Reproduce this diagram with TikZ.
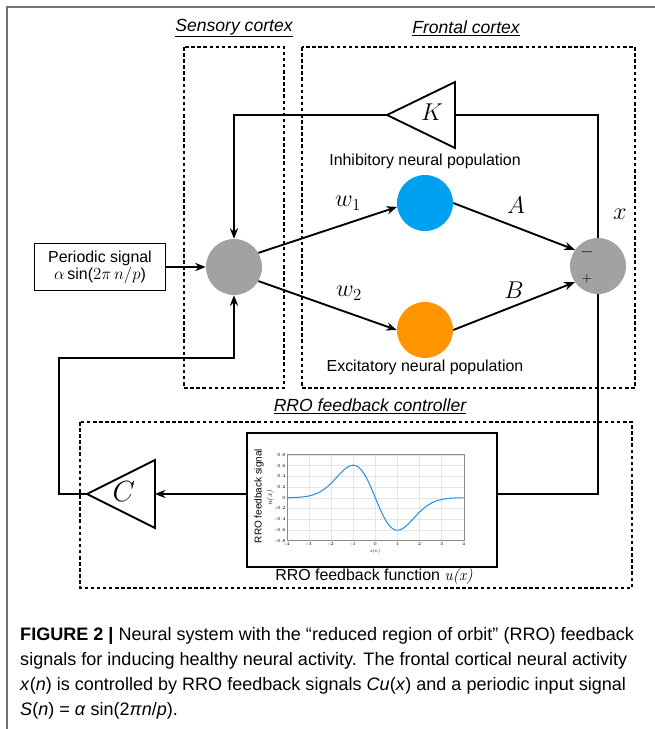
\documentclass[tikz,border=0pt]{standalone}
\usepackage{fontspec}
\setsansfont{Liberation Sans}
\usetikzlibrary{arrows.meta}
\definecolor{inhblue}{RGB}{0,160,240}
\definecolor{excorange}{RGB}{255,150,0}
\definecolor{popgray}{RGB}{162,162,162}
\definecolor{curveblue}{RGB}{45,145,225}
\begin{document}
\begin{tikzpicture}[x=0.03cm,y=-0.03cm,
  pop node/.style={circle,fill=#1,minimum size=1.68cm,inner sep=0pt},
  region/.style={draw,line width=1.4pt,dash pattern=on 3pt off 2.2pt},
  wire/.style={line width=1.6pt},
  arr/.style={-{Stealth[length=9pt,width=7pt]}},
  txt/.style={font=\sffamily\fontsize{13.6}{15.5}\selectfont},
  head/.style={font=\sffamily\itshape\fontsize{15}{17}\selectfont},
  gain/.style={font=\fontsize{22}{24}\selectfont},
  tick/.style={font=\fontsize{4}{4}\selectfont,inner sep=1pt},
  cap line/.style={anchor=west,inner sep=0pt,font=\sffamily\fontsize{15.4}{18}\selectfont}]

  \useasboundingbox (0,0) rectangle (655,729);
  \draw[line width=1.6pt,black!55] (7,729) -- (7,7) -- (655,7);

  % regions
  \draw[region] (184,47) rectangle (284,388);
  \draw[region] (302,47) rectangle (635,388);
  \draw[region] (80,422) rectangle (632,588);
  \node[head] (senhead) at (234,28) {\underline{Sensory cortex}};
  \node[head] (fronthead) at (466,28) {\underline{Frontal cortex}};
  \node[head] (rrohead) at (370,406) {\underline{RRO feedback controller}};

  % populations
  \node[pop node=popgray] (sen) at (234,267) {};
  \node[pop node=inhblue] (inh) at (425,203) {};
  \node[pop node=excorange] (exc) at (425,330) {};
  \node[pop node=popgray] (sum) at (598,266) {};
  \node[txt] (inhtext) at (425,161) {Inhibitory neural population};
  \node[txt] (exctext) at (425,367) {Excitatory neural population};
  \node[font=\fontsize{14}{14}\selectfont] (minus) at (587,252) {$-$};
  \node[font=\fontsize{12}{12}\selectfont] (plus) at (587,279) {$+$};

  % input
  \node[draw,line width=1.2pt,txt,align=center,minimum width=3.93cm,minimum height=1.41cm,inner sep=0pt]
    (sig) at (100,267) {Periodic signal\\[-1pt]$\alpha$\,sin($2\pi\,n/p$)};

  % gains
  \coordinate (Kin) at (455,115);
  \coordinate (Kout) at (387,115);
  \draw[line width=1.6pt,line join=miter] (455,82) -- (455,148) -- (Kout) -- cycle;
  \node[gain] (K) at (432,112) {$K$};
  \coordinate (Cin) at (155,494);
  \coordinate (Cout) at (87,494);
  \draw[line width=1.6pt,line join=miter] (155,460) -- (155,528) -- (Cout) -- cycle;
  \node[font=\fontsize{32}{34}\selectfont] (C) at (124,492) {$C$};

  % weights
  \node[gain] (w1) at (348,203) {$w_1$};
  \node[gain] (w2) at (349,293) {$w_2$};
  \node[gain] (A) at (516,205) {$A$};
  \node[gain] (B) at (514,290) {$B$};
  \node[gain] (xout) at (620,214) {$x$};

  % feedback function plot
  \node[draw,line width=1.2pt,minimum width=7.5cm,minimum height=4.02cm,inner sep=0pt] (plot) at (372,500) {};
  \foreach \t in {-4,...,4}
    \draw[black!10,line width=0.3pt] ({375.3+22.1*\t},454) -- ({375.3+22.1*\t},540);
  \foreach \u in {-0.8,-0.6,...,0.81}
    \draw[black!10,line width=0.3pt] (287,{497.7-53.6*\u}) -- (464,{497.7-53.6*\u});
  \draw[black!45,line width=0.4pt] (287,454) rectangle (464,540);
  \foreach \t in {-4,...,4}
    \node[tick,anchor=north] at ({375.3+22.1*\t},541) {\t};
  \foreach \u/\l in {-0.8/-0.8,-0.6/-0.6,-0.4/-0.4,-0.2/-0.2,0/0,0.2/0.2,0.4/0.4,0.6/0.6,0.8/0.8}
    \node[tick,anchor=east] at (287,{497.7-53.6*\u}) {\l};
  \node[tick,font=\itshape\fontsize{4}{4}\selectfont] (xlab) at (375,551) {x(n)};
  \node[rotate=90,font=\sffamily\fontsize{8.5}{9}\selectfont] (ylab) at (259,496) {RRO feedback signal};
  \node[rotate=90,font=\itshape\fontsize{6}{6}\selectfont] (ulab) at (270,498) {u(x)};
  \draw[curveblue,line width=0.9pt] plot[domain=-4:4,samples=90,smooth]
    ({375.3+22.1*\x},{497.7+53.6*(\x)*exp(-0.5*(\x)*(\x))});
  \node[txt] (fntext) at (374,577) {RRO feedback function {\rmfamily\itshape u(x)}};

  % connections
  \draw[wire,arr] (sig) -- (sen);
  \draw[wire,arr] (sen.30) -- (inh.188);
  \draw[wire,arr] (sen.330) -- (exc.west);
  \draw[wire,arr] (inh.east) -- (sum.145);
  \draw[wire,arr] (exc.east) -- (sum.215);
  \draw[wire] (sum.north) |- (Kin);
  \draw[wire,arr] (Kout) -| (sen.north);
  \draw[wire] (sum.south) |- ([yshift=0.18cm]plot.east);
  \draw[wire,arr] ([yshift=0.18cm]plot.west) -- (Cin);
  \draw[wire,arr] (Cout) -- (59,494) -- (59,358) -| (sen.south);

  % caption
  \node[cap line] (cap1) at (20,636) {\textbf{FIGURE 2 |} Neural system with the “reduced region of orbit” (RRO) feedback};
  \node[cap line] (cap2) at (20,661) {signals for inducing healthy neural activity. The frontal cortical neural activity};
  \node[cap line] (cap3) at (20,686) {\textit{x}(\textit{n}) is controlled by RRO feedback signals \textit{Cu}(\textit{x}) and a periodic input signal};
  \node[cap line] (cap4) at (20,711) {\textit{S}(\textit{n}) = \textit{α} sin(2\textit{πn}/\textit{p}).};
\end{tikzpicture}
\end{document}
